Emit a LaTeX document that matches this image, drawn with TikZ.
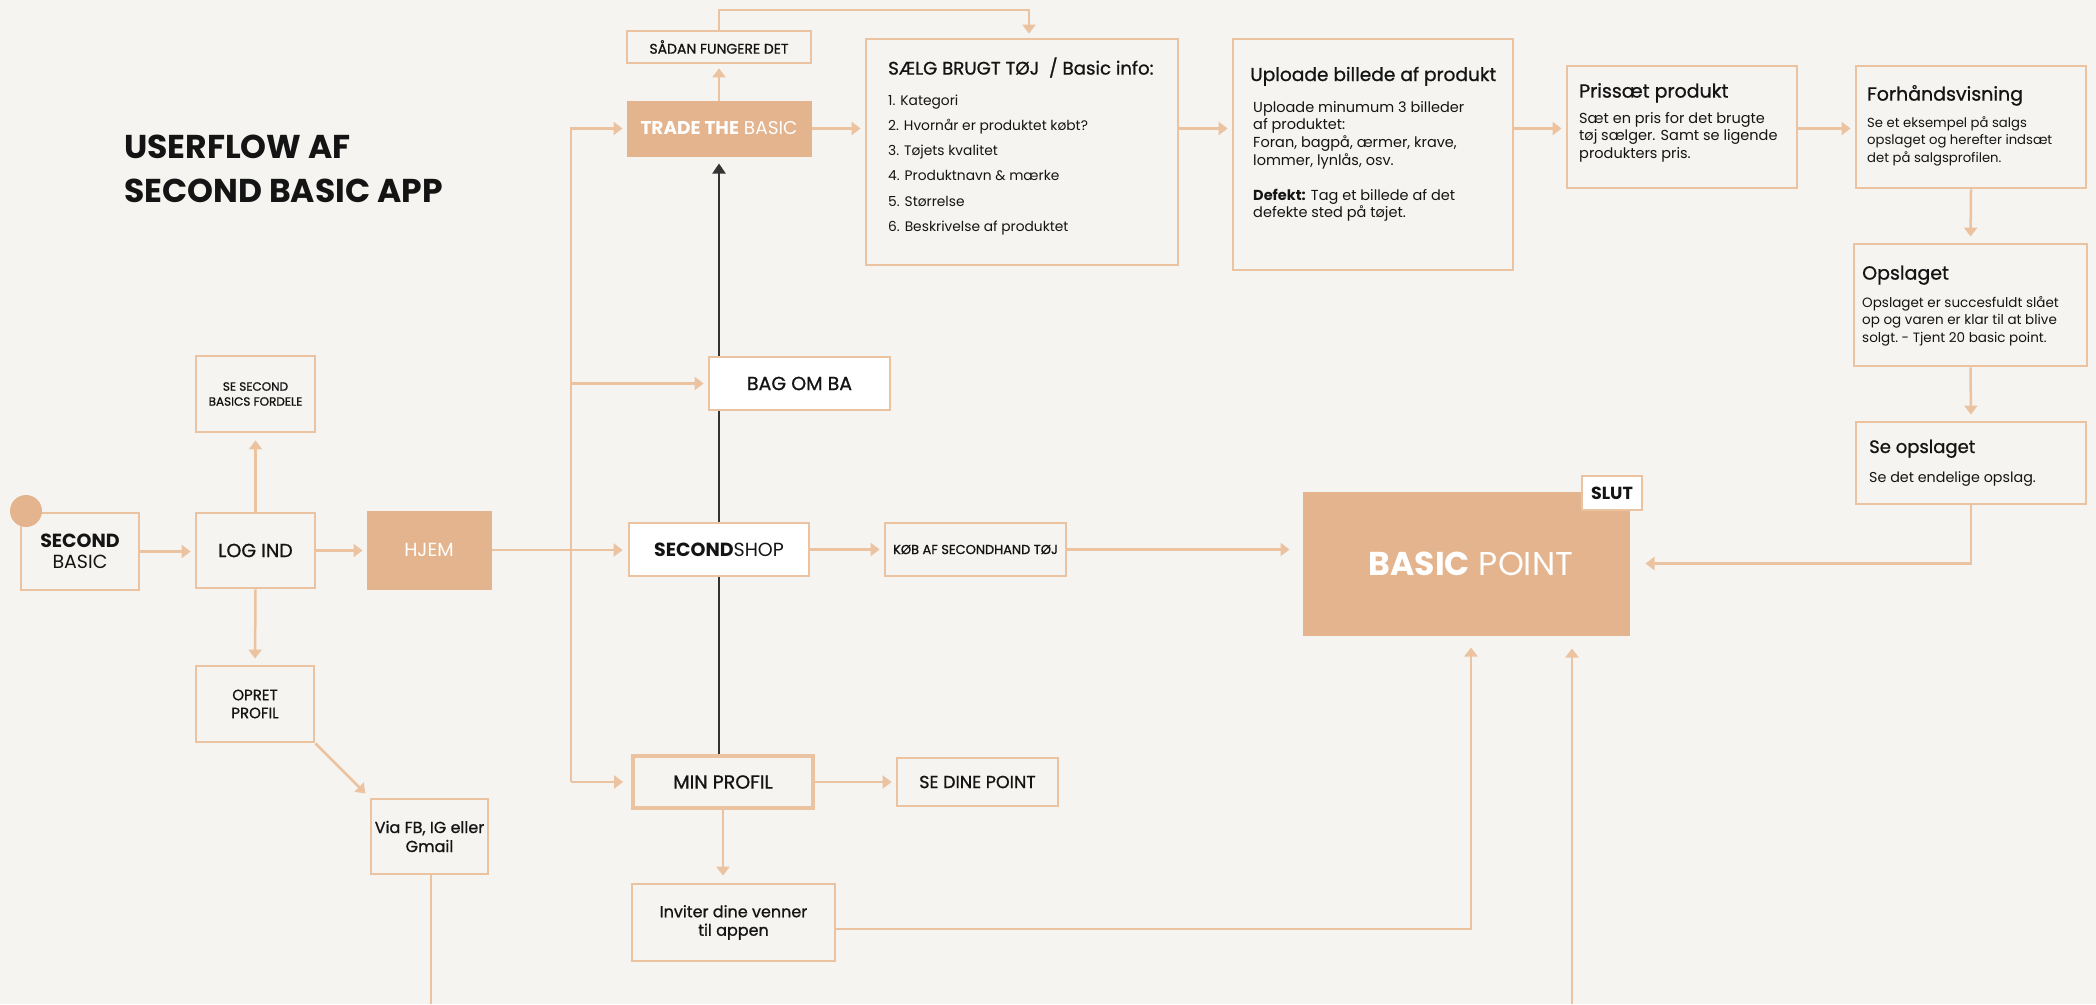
\documentclass[tikz,border=0pt]{standalone}
\usepackage{fontspec}
\setmainfont{Poppins}
\newfontfamily\popmed[FakeBold=0.9]{Poppins}
\usetikzlibrary{arrows.meta,backgrounds,calc}
\pgfdeclarelayer{canvas}
\pgfsetlayers{canvas,background,main}

\definecolor{paper}{HTML}{F5F4F0}
\definecolor{peach}{HTML}{E3B48D}
\definecolor{peachline}{HTML}{EBC3A0}
\definecolor{ink}{HTML}{141414}
\definecolor{spine}{HTML}{333333}

\newcommand{\fs}[2]{\fontsize{#1}{#2}\selectfont}

\tikzset{
  box/.style={draw=peachline, line width=2.8pt, fill=paper, inner sep=0pt,
              align=center, text=ink},
  whitebox/.style={box, fill=white},
  solid box/.style={draw=peach, line width=1pt, fill=peach, inner sep=0pt,
              align=center, text=white},
  conn/.style={draw=peachline, line width=2.5pt,
               -{Triangle[length=9pt,width=13pt]}},
  plainline/.style={draw=peachline, line width=2.5pt},
  spineline/.style={draw=spine, line width=2pt,
               -{Triangle[length=10pt,width=13pt]}},
  head/.style={anchor=base west, inner sep=0pt, text=ink, font=\fs{19}{22}\popmed},
  body/.style={anchor=base west, inner sep=0pt, text=ink, font=\fs{14.5}{17.6}},
  item/.style={anchor=base west, inner sep=0pt, text=ink, font=\fs{13.8}{17}},
}

\begin{document}
\begin{tikzpicture}[x=1pt,y=-1pt]
\begin{pgfonlayer}{canvas}
  \fill[paper] (0,0) rectangle (2096,1004);
\end{pgfonlayer}
\useasboundingbox (0,0) rectangle (2096,1004);

% heading
\node[anchor=base west, inner sep=0pt, text=ink, font=\fs{33}{40}\bfseries] (title1) at (124,158.5) {USERFLOW AF};
\node[anchor=base west, inner sep=0pt, text=ink, font=\fs{33}{40}\bfseries] (title2) at (124,202.5) {SECOND BASIC APP};

% left column
\node[box, minimum width=118pt, minimum height=77pt, font=\fs{19}{21}] (sb) at (80,551.5)
  {\textbf{SECOND}\\BASIC};
\node[circle, fill=peach, minimum size=32pt, inner sep=0pt] (startdot) at (26,511) {};
\node[box, minimum width=119pt, minimum height=75pt, font=\fs{19}{22}\popmed] (login) at (255.5,550.5) {LOG IND};
\node[box, minimum width=119pt, minimum height=76pt, font=\fs{12}{15}\popmed] (fordele) at (255.5,394)
  {SE SECOND\\BASICS FORDELE};
\node[box, minimum width=118pt, minimum height=76pt, font=\fs{15}{18}\popmed] (opret) at (255,704)
  {OPRET\\PROFIL};
\node[box, minimum width=117pt, minimum height=75pt, font=\fs{16}{19}\popmed] (via) at (429.5,836.5)
  {Via FB, IG eller\\Gmail};
\node[solid box, minimum width=124pt, minimum height=78pt, font=\fs{19}{22}] (hjem) at (429,550) {HJEM};

% middle column
\node[solid box, minimum width=184pt, minimum height=55pt, font=\fs{18.5}{22}] (trade) at (719,128.5)
  {\textbf{TRADE THE} BASIC};
\node[box, minimum width=184pt, minimum height=32pt, font=\fs{14}{17}\popmed] (sadan) at (719,47) {SÅDAN FUNGERE DET};
\node[whitebox, minimum width=181pt, minimum height=53pt, font=\fs{19}{22}\popmed] (bag) at (799.5,383.5) {BAG OM BA};
\node[whitebox, minimum width=180pt, minimum height=53pt, font=\fs{19}{22}] (shop) at (719,549.5)
  {\textbf{SECOND}SHOP};
\node[box, minimum width=181pt, minimum height=53pt, font=\fs{13}{16}\popmed] (kob) at (975.5,549.5) {KØB AF SECONDHAND TØJ};
\node[box, line width=3.8pt, minimum width=180pt, minimum height=52pt, font=\fs{19}{22}\popmed] (minprofil) at (723,782) {MIN PROFIL};
\node[box, minimum width=161pt, minimum height=48pt, font=\fs{17.5}{20}\popmed] (sedine) at (977.5,782) {SE DINE POINT};
\node[box, minimum width=203pt, minimum height=77pt, font=\fs{16}{18.5}\popmed] (inviter) at (733.5,922.5)
  {Inviter dine venner\\til appen};

% selling steps
\node[box, minimum width=312pt, minimum height=226pt] (saelg) at (1022,152) {};
\node[head, font=\fs{18.2}{22}\popmed] (saelg-h) at (888,74.6) {SÆLG BRUGT TØJ\ \ / Basic info:};
\foreach \t [count=\i from 0] in {1. Kategori, 2. Hvornår er produktet købt?, 3. Tøjets kvalitet,
    4. Produktnavn \& mærke, 5. Størrelse, 6. Beskrivelse af produktet}
  \node[item] (saelg-\i) at (888,105+25.3*\i) {\t};

\node[box, minimum width=280pt, minimum height=231pt] (upload) at (1373,154.5) {};
\node[head, font=\fs{18.6}{22}\popmed] (upload-h) at (1250,81) {Uploade billede af produkt};
\foreach \t [count=\i from 0] in {Uploade minumum 3 billeder, af produktet:,
    {Foran, bagpå, ærmer, krave,}, {lommer, lynlås, osv.}}
  \node[body] (upload-\i) at (1253,112+17.7*\i) {\t};
\node[body] (upload-4) at (1253,200) {\textbf{Defekt:} Tag et billede af det};
\node[body] (upload-5) at (1253,217.7) {defekte sted på tøjet.};

\node[box, minimum width=230pt, minimum height=122pt] (pris) at (1682,127) {};
\node[head] (pris-h) at (1579,97.6) {Prissæt produkt};
\foreach \t [count=\i from 0] in {Sæt en pris for det brugte, tøj sælger. Samt se ligende, produkters pris.}
  \node[body] (pris-\i) at (1579,123+17.6*\i) {\t};

\node[box, minimum width=230pt, minimum height=122pt] (forh) at (1971,127) {};
\node[head] (forh-h) at (1867,100.6) {Forhåndsvisning};
\foreach \t [count=\i from 0] in {Se et eksempel på salgs, opslaget og herefter indsæt, det på salgsprofilen.}
  \node[body, font=\fs{13.2}{17}] (forh-\i) at (1867,127+17.6*\i) {\t};

\node[box, minimum width=233pt, minimum height=122pt] (opslaget) at (1970.5,305) {};
\node[head] (opslaget-h) at (1862,279.6) {Opslaget};
\foreach \t [count=\i from 0] in {Opslaget er succesfuldt slået, op og varen er klar til at blive, solgt.\ - Tjent 20 basic point.}
  \node[body, font=\fs{13.5}{17}] (opslaget-\i) at (1862,307+17.6*\i) {\t};

\node[box, minimum width=230pt, minimum height=82pt] (seops) at (1971,463) {};
\node[head, font=\fs{18}{22}\popmed] (seops-h) at (1869,453) {Se opslaget};
\node[body, font=\fs{14.3}{17}] (seops-0) at (1869,482) {Se det endelige opslag.};

% end point
\node[solid box, minimum width=326pt, minimum height=143pt, font=\fs{33}{40}] (basic) at (1466,563.5)
  {\hspace*{10pt}\textbf{BASIC} POINT};
\node[whitebox, minimum width=60pt, minimum height=34pt, font=\fs{17.5}{20}\bfseries] (slut) at (1612,493) {SLUT};

% reference points for free ends and bends
\coordinate (trunkx) at (571,0);
\coordinate (loopcorner) at (1029,10);
\coordinate (invrow) at (0,929);
\coordinate (invcol) at (1471,0);
\coordinate (viaend) at (431,1004);
\coordinate (pointfeed) at (1572,1004);

\begin{pgfonlayer}{background}
  % dark spine behind the white boxes
  \draw[spineline, shorten >=7pt] (trade.south |- minprofil.north) -- (trade.south);

  % start and login
  \draw[conn, shorten >=4pt] (sb.east) -- (sb.east -| login.west);
  \draw[conn, shorten >=7pt] (login.north) -- (fordele.south);
  \draw[conn, shorten >=6pt] (login.south) -- (opret.north);
  \draw[conn, shorten >=6pt] (opret.south east) -- (via.north west);
  \draw[conn, shorten >=4pt] (login.east) -- (login.east -| hjem.west);
  \draw[conn, shorten >=5pt] (hjem.east) -- (hjem.east -| shop.west);
  \draw[plainline] (via.south -| viaend) -- (viaend);

  % trunk to the four sections
  \draw[conn, shorten >=4pt] (trunkx |- minprofil.west) |- (trade.west);
  \draw[conn, shorten >=4pt] (trunkx |- bag.west) -- (bag.west);
  \draw[conn, shorten >=8pt] (trunkx |- minprofil.west) -- (minprofil.west);

  % trade flow
  \draw[conn, shorten >=4pt] (trade.north) -- (sadan.south);
  \draw[conn, shorten >=4pt] (sadan.north) |- (loopcorner) -- (loopcorner |- saelg.north);
  \draw[conn, shorten >=4pt] (trade.east) -- (trade.east -| saelg.west);
  \draw[conn, shorten >=4pt] (saelg.east |- trade.east) -- (upload.west |- trade.east);
  \draw[conn, shorten >=4pt] (upload.east |- trade.east) -- (pris.west |- trade.east);
  \draw[conn, shorten >=4pt] (pris.east |- trade.east) -- (forh.west |- trade.east);
  \draw[conn, shorten >=6pt] (forh.south) -- (opslaget.north);
  \draw[conn, shorten >=6pt] (opslaget.south) -- (seops.north);
  \draw[conn, shorten >=16pt] (seops.south) |- (basic.east);

  % shop flow
  \draw[conn, shorten >=4pt] (shop.east) -- (shop.east -| kob.west);
  \draw[conn, shorten >=13pt] (kob.east) -- (kob.east -| basic.west);

  % profile flow
  \draw[conn, shorten >=4pt] (minprofil.east) -- (minprofil.east -| sedine.west);
  \draw[conn, shorten >=7pt] (minprofil.south) -- (minprofil.south |- inviter.north);
  \draw[conn, shorten >=12pt] (inviter.east |- invrow) -| (invcol |- basic.south);
  \draw[conn, shorten >=13pt] (pointfeed) -- (pointfeed |- basic.south);
\end{pgfonlayer}
\end{tikzpicture}
\end{document}
